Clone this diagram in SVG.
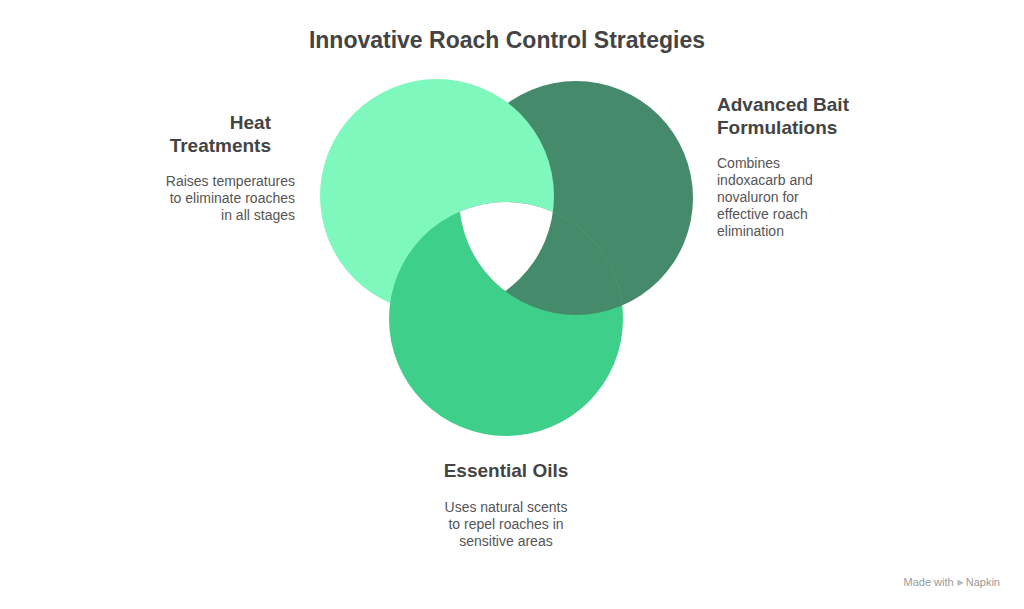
<svg xmlns="http://www.w3.org/2000/svg" width="1024" height="609" viewBox="0 0 1024 609">
<style>
.t{font-family:"Liberation Sans",Arial,sans-serif;font-weight:bold;font-size:19px;fill:#444}
.d{font-family:"Liberation Sans",Arial,sans-serif;font-size:14px;fill:#555}
</style>
<defs>
<clipPath id="cm"><circle cx="506" cy="319" r="117"/></clipPath>
<clipPath id="cl"><circle cx="437" cy="196" r="117"/></clipPath>
</defs>
<rect width="1024" height="609" fill="#fff"/>
<text x="507" y="48" text-anchor="middle" font-family="Liberation Sans,Arial,sans-serif" font-weight="bold" font-size="23" fill="#444">Innovative Roach Control Strategies</text>
<g id="shapes">
<circle cx="576" cy="198" r="117" fill="#458a6a"/>
<circle cx="437" cy="196" r="117" fill="#7ff8bd"/>
<circle cx="506" cy="319" r="117" fill="#3ecf8a"/>
<circle cx="576" cy="198" r="117" fill="#458a6a" clip-path="url(#cm)"/>
<g clip-path="url(#cl)"><circle cx="576" cy="198" r="117" fill="#fff" clip-path="url(#cm)"/></g>
</g>
<g id="heat">
<text class="t" x="271" y="129" text-anchor="end">Heat</text>
<text class="t" x="271" y="152" text-anchor="end">Treatments</text>
<text class="d" x="295" y="186" text-anchor="end">Raises temperatures</text>
<text class="d" x="295" y="203" text-anchor="end">to eliminate roaches</text>
<text class="d" x="295" y="220" text-anchor="end">in all stages</text>
</g>
<g id="bait">
<text class="t" x="717" y="111">Advanced Bait</text>
<text class="t" x="717" y="134">Formulations</text>
<text class="d" x="717" y="168">Combines</text>
<text class="d" x="717" y="185">indoxacarb and</text>
<text class="d" x="717" y="202">novaluron for</text>
<text class="d" x="717" y="219">effective roach</text>
<text class="d" x="717" y="236">elimination</text>
</g>
<g id="oils">
<text class="t" x="506" y="477" text-anchor="middle">Essential Oils</text>
<text class="d" x="506" y="512" text-anchor="middle">Uses natural scents</text>
<text class="d" x="506" y="529" text-anchor="middle">to repel roaches in</text>
<text class="d" x="506" y="546" text-anchor="middle">sensitive areas</text>
</g>
<g id="connectors"/>
<text x="1000" y="586" text-anchor="end" font-family="Liberation Sans,Arial,sans-serif" font-size="11" fill="#999">Made with ⫸ Napkin</text>
</svg>
